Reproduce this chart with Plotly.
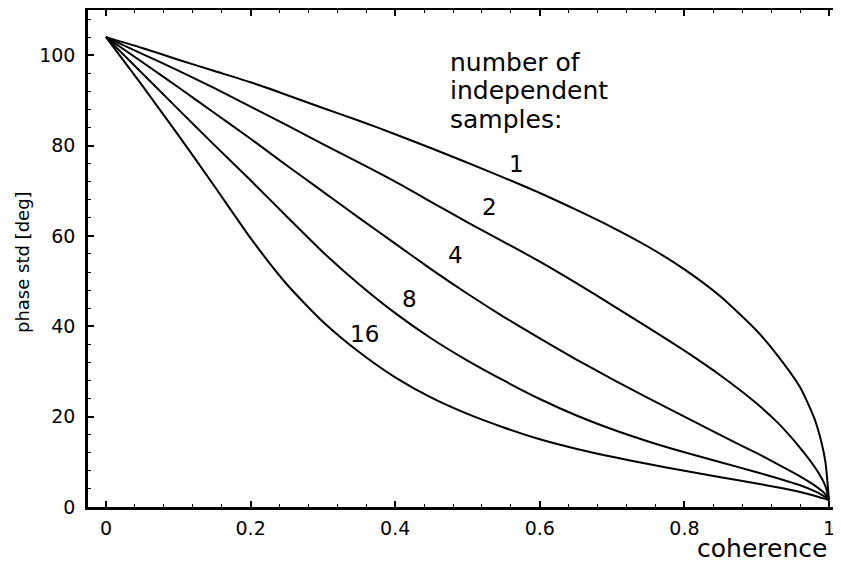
import plotly.graph_objects as go

# coherence values (x) shared by all curves
coherence = [0, 0.05, 0.1, 0.15, 0.2, 0.25, 0.3, 0.35, 0.4, 0.45, 0.5, 0.55, 0.6, 0.65,
             0.7, 0.75, 0.8, 0.85, 0.9, 0.93, 0.96, 0.98, 0.99, 0.995, 1.0]

# phase std [deg] for each number of independent samples
std_1 = [104, 101.6, 99.0, 96.5, 94.0, 91.2, 88.3, 85.5, 82.5, 79.4, 76.2, 72.9, 69.5, 65.8,
         61.9, 57.6, 52.6, 46.6, 39.0, 33.3, 26.5, 19.5, 14.0, 10.0, 1.5]
std_2 = [104, 100.3, 96.6, 92.7, 88.6, 84.5, 80.3, 76.2, 72.0, 67.5, 63.0, 58.7, 54.3, 49.6,
         44.7, 39.7, 34.6, 29.1, 22.9, 18.5, 13.1, 8.9, 6.3, 4.6, 1.5]
std_4 = [104, 98.5, 92.9, 87.2, 81.5, 75.6, 69.8, 64.0, 58.3, 52.6, 47.2, 42.1, 37.3, 32.7,
         28.3, 24.1, 20.0, 15.9, 11.9, 9.4, 6.8, 4.8, 3.6, 2.8, 1.5]
std_8 = [104, 96.0, 88.0, 80.1, 72.3, 64.3, 56.4, 49.3, 42.9, 37.3, 32.4, 28.0, 23.9, 20.3,
         17.2, 14.5, 12.1, 9.9, 7.7, 6.3, 4.8, 3.5, 2.7, 2.2, 1.5]
std_16 = [104, 93.3, 82.3, 71.0, 59.5, 49.3, 41.0, 34.3, 28.7, 24.2, 20.6, 17.6, 15.0, 12.9,
          11.1, 9.5, 8.0, 6.6, 5.2, 4.3, 3.3, 2.5, 2.0, 1.8, 1.5]

series = [("1", std_1), ("2", std_2), ("4", std_4), ("8", std_8), ("16", std_16)]

x_ticks = [0, 0.2, 0.4, 0.6, 0.8, 1]
x_tick_labels = ["0", "0.2", "0.4", "0.6", "0.8", "1"]
y_ticks = [0, 20, 40, 60, 80, 100]
y_tick_labels = ["0", "20", "40", "60", "80", "100"]

# curve label positions (data coordinates)
label_text = ["1", "2", "4", "8", "16"]
label_x = [0.568, 0.531, 0.483, 0.420, 0.358]
label_y = [76.0, 66.5, 55.8, 46.0, 38.3]

FONT = "DejaVu Sans"

# page has an 8px body margin; plot area in page pixels: x 88..833, y 10..507
PX0, PX1, PY0, PY1 = 88, 833, 10, 507


def px(p):
    return (p - PX0) / (PX1 - PX0)


def py(p):
    return (PY1 - p) / (PY1 - PY0)


fig = go.Figure()
for name, vals in series:
    fig.add_trace(go.Scatter(
        x=coherence, y=vals, mode="lines", name=name,
        line=dict(color="black", width=2, shape="spline", smoothing=0.6),
        showlegend=False, hoverinfo="skip",
    ))

for t, lx, ly in zip(label_text, label_x, label_y):
    fig.add_annotation(x=lx, y=ly, xref="x", yref="y", text=t, showarrow=False,
                       font=dict(family=FONT, size=23, color="black"),
                       xanchor="center", yanchor="middle")

for i, line in enumerate(["number of", "independent", "samples:"]):
    fig.add_annotation(x=px(448), y=py(62 + 28.5 * i), xref="paper", yref="paper",
                       text=line, showarrow=False,
                       font=dict(family=FONT, size=25, color="black"),
                       xanchor="left", yanchor="middle")

fig.add_annotation(x=px(829), y=py(548), xref="paper", yref="paper",
                   text="coherence", showarrow=False,
                   font=dict(family=FONT, size=25, color="black"),
                   xanchor="right", yanchor="middle")

fig.add_annotation(x=px(22), y=py(262), xref="paper", yref="paper",
                   text="phase std [deg]", showarrow=False, textangle=-90,
                   font=dict(family=FONT, size=18, color="black"),
                   xanchor="center", yanchor="middle")

fig.update_layout(
    width=825, height=551,
    margin=dict(l=80, r=0, t=2, b=52, autoexpand=False),
    paper_bgcolor="white", plot_bgcolor="white",
    font=dict(family=FONT, size=19, color="black"),
)

fig.update_xaxes(
    range=[-0.0249, 1.0055], tickvals=x_ticks, ticktext=x_tick_labels, automargin=False,
    showgrid=False, zeroline=False, showline=True, linecolor="black", linewidth=2.5,
    mirror="allticks", ticks="inside", ticklen=6, tickwidth=1.5, tickcolor="black",
    minor=dict(dtick=0.04, tick0=0, ticks="inside", ticklen=3, tickwidth=1, tickcolor="black"),
    ticklabelstandoff=2, ticklabeloverflow="allow",
    tickfont=dict(family=FONT, size=19),
)
fig.update_yaxes(
    range=[0, 110], tickvals=y_ticks, ticktext=y_tick_labels, automargin=False,
    showgrid=False, zeroline=False, showline=True, linecolor="black", linewidth=2.5,
    mirror=False, ticks="inside", ticklen=6, tickwidth=1.5, tickcolor="black",
    minor=dict(dtick=4, tick0=0, ticks="inside", ticklen=3, tickwidth=1, tickcolor="black"),
    ticklabelstandoff=6, ticklabeloverflow="allow",
    tickfont=dict(family=FONT, size=19),
)

fig.write_html("out.html")
